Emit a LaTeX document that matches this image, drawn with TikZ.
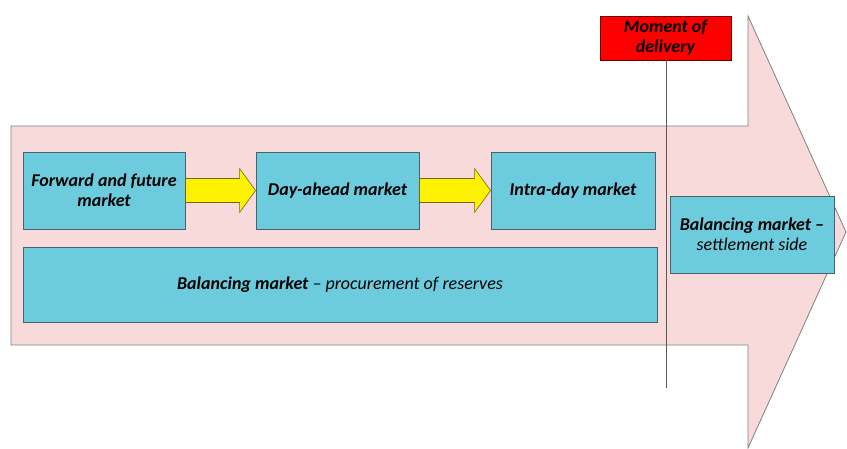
\documentclass[tikz,border=0pt]{standalone}
\usepackage{fontspec}
\setmainfont{Carlito}
\usetikzlibrary{calc}

\definecolor{arrowpink}{RGB}{248,218,218}
\definecolor{marketblue}{RGB}{108,204,222}
\definecolor{marketedge}{RGB}{70,100,110}

\begin{document}
\begin{tikzpicture}[x=1pt,y=-1pt,>=latex,
	market/.style={draw=marketedge,fill=marketblue,line width=0.9pt,inner sep=0pt,align=center,font=\fontsize{18}{20}\selectfont\itshape},
	fatarrow/.style={draw=olive!70!black,fill=yellow,line width=0.6pt}]
	
	\useasboundingbox (0,0) rectangle (847,449);
	
	% Draw the time arrow
	\filldraw[draw=gray,fill=arrowpink,line width=0.8pt] (11,126) -- (748,126) -- (748,16) -- (846,232) -- (748,448) -- (748,345) -- (11,345) -- cycle;
	
	% Draw the markets
	\node[market,minimum width=162pt,minimum height=77pt] (ff) at (104,190.5) {\textbf{Forward and future}\\\textbf{market}};
	\node[market,minimum width=163pt,minimum height=77pt] (da) at (337.5,190.5) {\textbf{Day-ahead market}};
	\node[market,minimum width=164pt,minimum height=77pt] (id) at (573,190.5) {\textbf{Intra-day market}};
	\node[market,minimum width=634pt,minimum height=75pt] (bp) at (340,284.5) {\textbf{Balancing market} -- procurement of reserves};
	\node[market,minimum width=164pt,minimum height=77pt] (ss) at (752,234.5) {\textbf{Balancing market --}\\settlement side};
	
	% Draw the yellow arrows
	\filldraw[fatarrow] ($(ff.east)+(0,-12)$) -- ($(da.west)+(-16,-12)$) -- ($(da.west)+(-16,-22)$) -- (da.west) -- ($(da.west)+(-16,22)$) -- ($(da.west)+(-16,12)$) -- ($(ff.east)+(0,12)$) -- cycle;
	\filldraw[fatarrow] ($(da.east)+(0,-12)$) -- ($(id.west)+(-16,-12)$) -- ($(id.west)+(-16,-22)$) -- (id.west) -- ($(id.west)+(-16,22)$) -- ($(id.west)+(-16,12)$) -- ($(da.east)+(0,12)$) -- cycle;
	
	% Draw the moment of delivery
	\node[draw=red!40!black,fill=red,line width=0.8pt,minimum width=131pt,minimum height=44pt,inner sep=0pt,align=center,font=\fontsize{18}{20}\selectfont\itshape\bfseries] (md) at (665.5,38) {Moment of\\delivery};
	\coordinate (mdend) at (666,388);
	\draw[gray!70!black,line width=0.8pt] (md.south -| mdend) -- (mdend);

\end{tikzpicture}
\end{document}
